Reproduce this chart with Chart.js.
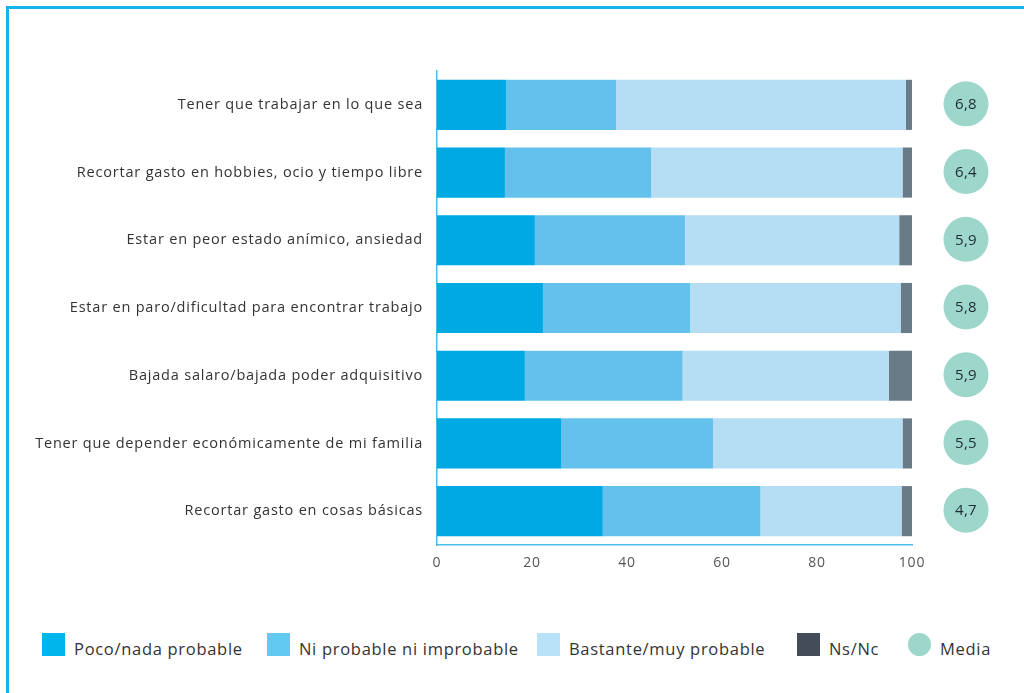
<!DOCTYPE html>
<html lang="es">
<head>
  <meta charset="UTF-8" />
  <title>Probabilidad de consecuencias</title>
  <script src="https://cdn.jsdelivr.net/npm/chart.js"></script>
  <style>
    body {
      margin: 0;
      padding: 0;
      background: #fff;
      font-family: 'Open Sans', sans-serif;
      color: #333;
      overflow: hidden;
    }

    .marco {
      position: absolute;
      left: 6px;
      top: 6px;
      width: 1100px;
      height: 800px;
      border-top: 3px solid #14b4ea;
      border-left: 3px solid #14b4ea;
    }

    .grafico {
      position: absolute;
      left: 0;
      top: 0;
      width: 1024px;
      height: 590px;
    }

    .leyenda .item {
      position: absolute;
      top: 633px;
      height: 23px;
      display: flex;
      align-items: center;
      font-size: 16.5px;
      letter-spacing: 0.7px;
      color: #333;
      white-space: nowrap;
    }

    .leyenda .caja {
      width: 23px;
      height: 23px;
      margin-right: 9px;
    }

    .leyenda .texto {
      position: relative;
      top: 4px;
    }
  </style>
</head>
<body>
  <div class="marco"></div>
  <div class="grafico"><canvas id="grafico"></canvas></div>
  <div class="leyenda" id="leyenda"></div>

  <script>
    const categorias = [
      "Tener que trabajar en lo que sea",
      "Recortar gasto en hobbies, ocio y tiempo libre",
      "Estar en peor estado anímico, ansiedad",
      "Estar en paro/dificultad para encontrar trabajo",
      "Bajada salaro/bajada poder adquisitivo",
      "Tener que depender económicamente de mi familia",
      "Recortar gasto en cosas básicas"
    ];
    const pocoNada = [14.6, 14.3, 20.6, 22.3, 18.5, 26.2, 34.9];
    const niProbable = [23.1, 30.8, 31.6, 31.0, 33.2, 31.9, 33.2];
    const bastanteMuy = [61.0, 52.9, 45.1, 44.3, 43.4, 39.9, 29.7];
    const nsNc = [1.3, 2.0, 2.7, 2.4, 4.9, 2.0, 2.2];
    const media = [6.8, 6.4, 5.9, 5.8, 5.9, 5.5, 4.7];
    const ticksX = [0, 20, 40, 60, 80, 100];

    const series = [
      { label: "Poco/nada probable", data: pocoNada, color: "#00a8e4", legend: "#00b4ec" },
      { label: "Ni probable ni improbable", data: niProbable, color: "#63c1ec", legend: "#62c9f1" },
      { label: "Bastante/muy probable", data: bastanteMuy, color: "#b5ddf4", legend: "#b8e2f8" },
      { label: "Ns/Nc", data: nsNc, color: "#6a7b88", legend: "#444b59" }
    ];

    // letra algo más espaciada, como en el original
    const espaciado = {
      id: 'espaciado',
      beforeDraw(chart) { chart.ctx.letterSpacing = '0.8px'; },
      afterDraw(chart) { chart.ctx.letterSpacing = '0px'; }
    };

    // círculos con la media a la derecha de cada barra
    const circulosMedia = {
      id: 'circulosMedia',
      afterDraw(chart) {
        const ctx = chart.ctx;
        const y = chart.scales.y;
        const cx = chart.chartArea.right + 54;
        ctx.save();
        ctx.letterSpacing = '0.3px';
        media.forEach((m, i) => {
          const cy = y.getPixelForValue(i) - 1;
          ctx.beginPath();
          ctx.arc(cx, cy, 22.5, 0, Math.PI * 2);
          ctx.fillStyle = "#9dd6cb";
          ctx.fill();
          ctx.fillStyle = "#1e2a35";
          ctx.font = '15px "Open Sans", sans-serif';
          ctx.textAlign = 'center';
          ctx.textBaseline = 'middle';
          ctx.fillText(m.toFixed(1).replace('.', ','), cx, cy + 1);
        });
        ctx.restore();
      }
    };

    new Chart(document.getElementById("grafico"), {
      type: "bar",
      data: {
        labels: categorias,
        datasets: series.map(s => ({
          label: s.label,
          data: s.data,
          backgroundColor: s.color,
          borderWidth: 0,
          barPercentage: 0.74,
          categoryPercentage: 1
        }))
      },
      options: {
        indexAxis: 'y',
        responsive: true,
        maintainAspectRatio: false,
        animation: false,
        layout: { padding: { top: 71, right: 112, bottom: 10, left: 0 } },
        plugins: {
          legend: { display: false },
          tooltip: { enabled: false }
        },
        scales: {
          x: {
            stacked: true,
            min: 0,
            max: 100,
            afterBuildTicks(scale) {
              scale.ticks = ticksX.map(v => ({ value: v }));
            },
            afterFit(scale) { scale.height = 35; },
            grid: { display: false, drawTicks: false },
            border: { display: true, color: "#4dbbe8", width: 1.5 },
            ticks: {
              padding: 10,
              color: "#555",
              font: { family: '"Open Sans", sans-serif', size: 14 }
            }
          },
          y: {
            stacked: true,
            afterFit(scale) { scale.width = 437; },
            grid: { display: false, drawTicks: false },
            border: { display: true, color: "#4dbbe8", width: 1.5 },
            ticks: {
              padding: 14,
              color: "#333",
              font: { family: '"Open Sans", sans-serif', size: 14.5 }
            }
          }
        }
      },
      plugins: [espaciado, circulosMedia]
    });

    // leyenda
    const leyenda = document.getElementById("leyenda");
    const posiciones = [42, 267, 537, 797, 908];
    const items = series.map(s => ({ label: s.label, color: s.legend, circulo: false }));
    items.push({ label: "Media", color: "#9dd6cb", circulo: true });
    items.forEach((it, i) => {
      const div = document.createElement("div");
      div.className = "item";
      div.style.left = posiciones[i] + "px";
      div.innerHTML = `<span class="caja" style="background:${it.color};${it.circulo ? 'border-radius:50%;' : ''}"></span><span class="texto">${it.label}</span>`;
      leyenda.appendChild(div);
    });
  </script>
</body>
</html>
